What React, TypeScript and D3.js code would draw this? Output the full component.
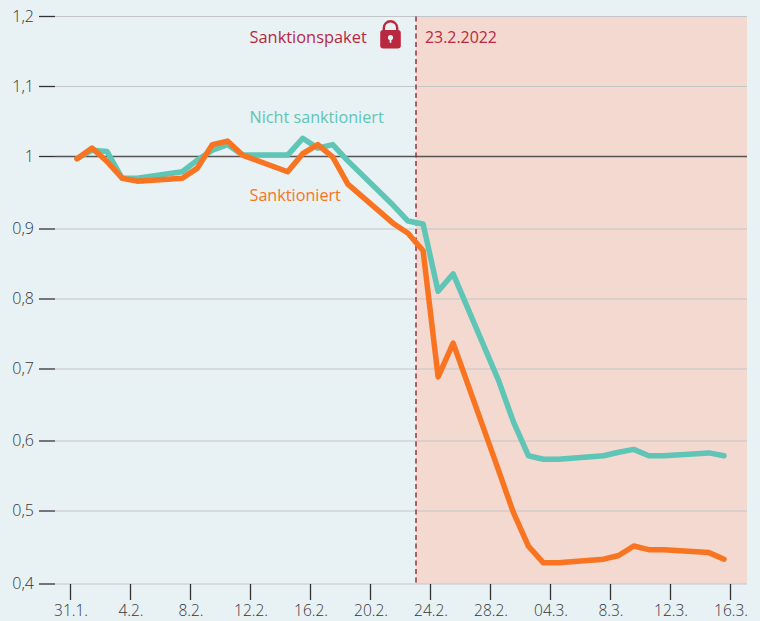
import React from "react";
import * as d3 from "d3";

const yTickValues = [1.2, 1.1, 1, 0.9, 0.8, 0.7, 0.6, 0.5, 0.4];
const yTickLabels = ["1,2", "1,1", "1", "0,9", "0,8", "0,7", "0,6", "0,5", "0,4"];
const xTickDays = [0, 4, 8, 12, 16, 20, 24, 28, 32, 36, 40, 44];
const xTickLabels = ["31.1.", "4.2.", "8.2.", "12.2.", "16.2.", "20.2.", "24.2.", "28.2.", "04.3.", "8.3.", "12.3.", "16.3."];
// days since 31 Jan 2022 (trading days only)
const days = [0, 1, 2, 3, 4, 7, 8, 9, 10, 11, 14, 15, 16, 17, 18, 21, 22, 23, 24, 25, 28, 29, 30, 31, 32, 35, 36, 37, 38, 39, 42, 43];
const sanctioned = [0.997, 1.012, 0.993, 0.970, 0.966, 0.970, 0.984, 1.017, 1.022, 1.002, 0.979, 1.004, 1.017, 0.999, 0.962, 0.908, 0.894, 0.869, 0.689, 0.737, 0.559, 0.498, 0.452, 0.429, 0.429, 0.434, 0.439, 0.452, 0.447, 0.447, 0.443, 0.434];
const notSanctioned = [0.997, 1.009, 1.007, 0.970, 0.970, 0.979, 0.995, 1.009, 1.017, 1.002, 1.002, 1.026, 1.012, 1.017, 0.994, 0.933, 0.911, 0.907, 0.811, 0.836, 0.685, 0.627, 0.579, 0.574, 0.574, 0.579, 0.584, 0.588, 0.579, 0.579, 0.583, 0.579];
const eventDay = 23;

const BG = "#e8f1f3";
const PINK = "#f3d9d0";
const TEAL = "#5fc5b6";
const ORANGE = "#f97420";
const RED = "#b9283f";
const FONT = "'Open Sans', sans-serif";

export default function App() {
  React.useEffect(() => {
    document.body.style.margin = "0";
    document.body.style.background = BG;
  }, []);
  const y = d3.scaleLinear().domain(yTickValues).range([16.5, 86.5, 156.5, 229, 299, 369, 441, 511, 584]);
  const xPoint = d3.scaleLinear().domain([0, 43]).range([77, 724]);
  const xTick = d3.scaleLinear().domain([0, 44]).range([70.5, 730.5]);
  const line = d3.line<number>().x((_, i) => xPoint(days[i])).y((d) => y(d)).curve(d3.curveLinear);
  const shadeX = xTick(eventDay) + 0.5;
  const left = 55, right = 747;
  const top = y(1.2), bottom = y(0.4);
  return (
    <svg width={760} height={621} viewBox="0 0 760 621" style={{ position: "absolute", left: 0, top: 0, background: BG, fontFamily: FONT }}>
      <rect x={shadeX} y={top} width={right - shadeX} height={bottom - top} fill={PINK} />
      {yTickValues.map((v, i) => (
        <g key={v}>
          <line x1={left} x2={right} y1={y(v)} y2={y(v)} stroke={v === 1 ? "#555555" : "#c3c6c8"} strokeWidth={v === 1 ? 1.5 : 1.2} />
          <line x1={39} x2={55} y1={y(v)} y2={y(v)} stroke="#333333" strokeWidth={1.3} />
          <text x={34} y={y(v)} dy="0.34em" textAnchor="end" fontSize={16} fontWeight={300} fill="#333639">{yTickLabels[i]}</text>
        </g>
      ))}
      {xTickDays.map((d, i) => (
        <g key={d}>
          <line x1={xTick(d)} x2={xTick(d)} y1={bottom} y2={600} stroke="#333333" strokeWidth={1.3} />
          <text x={xTick(d) + 0.5} y={616} textAnchor="middle" fontSize={15.5} fontWeight={300} fill="#333639">{xTickLabels[i]}</text>
        </g>
      ))}
      <line x1={shadeX} x2={shadeX} y1={top} y2={bottom} stroke={RED} strokeWidth={1.3} strokeDasharray="5 3.5" />
      <line x1={shadeX} x2={shadeX} y1={top} y2={bottom} stroke="#444" strokeWidth={0.5} strokeDasharray="5 3.5" />
      <path d={line(notSanctioned) ?? ""} fill="none" stroke={TEAL} strokeWidth={5.5} strokeLinejoin="round" strokeLinecap="round" />
      <path d={line(sanctioned) ?? ""} fill="none" stroke={ORANGE} strokeWidth={5.5} strokeLinejoin="round" strokeLinecap="round" />
      <text x={249.5} y={43} fontSize={16.4} fontWeight={400} fill={RED}>Sanktionspaket</text>
      <text x={425} y={43} fontSize={15.9} fontWeight={400} fill={RED}>23.2.2022</text>
      <text x={249.5} y={123} fontSize={16.2} fontWeight={400} fill={TEAL}>Nicht sanktioniert</text>
      <text x={249.5} y={201} fontSize={16.2} fontWeight={400} fill={ORANGE}>Sanktioniert</text>
      <g>
        <path d="M383.8 31 V28 a6.7 6.7 0 0 1 13.4 0 V31" fill="none" stroke={RED} strokeWidth={2.4} />
        <rect x={380.2} y={30} width={20.6} height={18.6} rx={3} fill={RED} />
        <circle cx={390.5} cy={37.5} r={2.6} fill={BG} />
        <rect x={389.6} y={38} width={1.8} height={5} rx={0.8} fill={BG} />
      </g>
    </svg>
  );
}
